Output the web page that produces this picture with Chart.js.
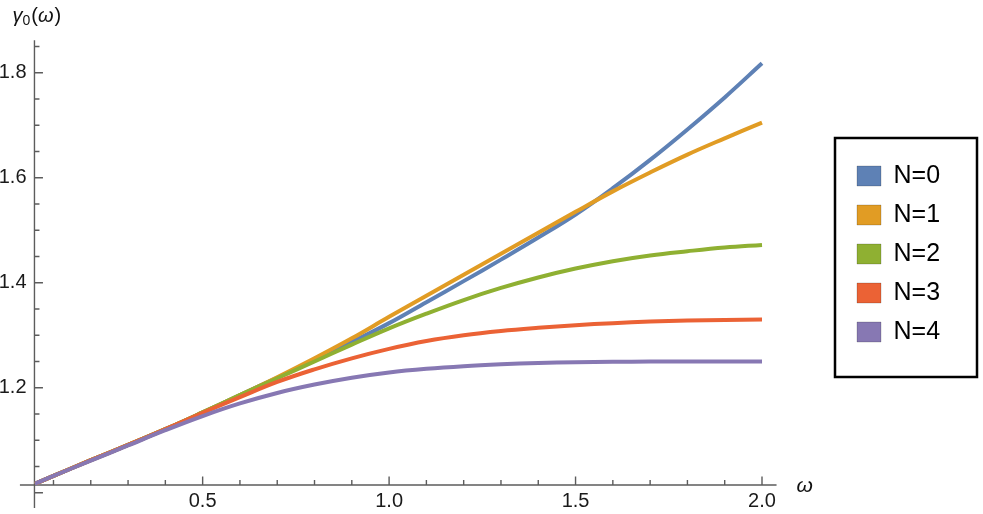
<!DOCTYPE html>
<html>
<head>
<meta charset="utf-8">
<script src="https://cdn.jsdelivr.net/npm/chart.js@4.4.1/dist/chart.umd.min.js"></script>
<style>
html,body{margin:0;padding:0;background:#fff}
canvas{display:block}
</style>
</head>
<body>
<canvas id="plot" width="983" height="514"></canvas>
<script>
// DATA
const omega=[0.05,0.1,0.2,0.3,0.4,0.5,0.6,0.7,0.8,0.9,1.0,1.1,1.2,1.3,1.4,1.5,1.6,1.7,1.8,1.9,2.0];
const gammaN0=[1.017,1.032,1.062,1.091,1.121,1.153,1.186,1.219,1.253,1.287,1.323,1.363,1.403,1.444,1.486,1.530,1.580,1.634,1.692,1.753,1.818];
const gammaN1=[1.017,1.032,1.062,1.091,1.121,1.153,1.186,1.220,1.256,1.294,1.335,1.375,1.415,1.455,1.495,1.535,1.574,1.610,1.644,1.675,1.705];
const gammaN2=[1.017,1.032,1.062,1.091,1.121,1.153,1.186,1.218,1.250,1.282,1.313,1.341,1.367,1.390,1.410,1.427,1.441,1.452,1.460,1.467,1.472];
const gammaN3=[1.017,1.032,1.062,1.091,1.121,1.152,1.182,1.211,1.235,1.256,1.274,1.289,1.300,1.308,1.314,1.319,1.323,1.326,1.328,1.329,1.330];
const gammaN4=[1.017,1.032,1.061,1.090,1.119,1.146,1.170,1.190,1.206,1.219,1.229,1.236,1.241,1.2445,1.247,1.2485,1.2493,1.2498,1.250,1.250,1.250];
const seriesNames=['N=0','N=1','N=2','N=3','N=4'];
const seriesColors=['#5E81B5','#E19C24','#8FB032','#EB6235','#8778B3'];

const xTickLabelled=[0.5,1.0,1.5,2.0];
const xTickMinor=[0.1,0.2,0.3,0.4,0.6,0.7,0.8,0.9,1.1,1.2,1.3,1.4,1.6,1.7,1.8,1.9];
const yTickLabelled=[1.2,1.4,1.6,1.8];
const yTickMajor=[1.0,1.2,1.4,1.6,1.8];
const yTickMinor=[1.05,1.1,1.15,1.25,1.3,1.35,1.45,1.5,1.55,1.65,1.7,1.75,1.85];
const axisOrigin=[0.049,1.0147];
const xAxisSpan=[0.01,2.039];
const yAxisSpan=[0.971,1.862];

const FONT='"Liberation Sans", Arial, sans-serif';
const AXIS='#5c5c5c';
const LEG_FONT=25, LEG_PAD=14, LEG_BOX=24;

// legend width is known up front so the plot area ends where it should
const mctx=document.createElement('canvas').getContext('2d');
mctx.font=LEG_FONT+'px '+FONT;
const legTextW=Math.max(...seriesNames.map(s=>mctx.measureText(s).width));
const legendW=LEG_PAD+LEG_BOX+LEG_FONT/2+legTextW+10;
const plotRight=843;
const padRight=983-plotRight-legendW;

// axes through the origin + inward ticks
const axesPlugin={
  id:'axesPlugin',
  beforeDatasetsDraw(c){
    const {ctx,scales:{x,y}}=c;
    const ox=x.getPixelForValue(axisOrigin[0]), oy=y.getPixelForValue(axisOrigin[1]);
    ctx.save();
    ctx.strokeStyle=AXIS; ctx.lineWidth=1.4;
    ctx.beginPath();
    ctx.moveTo(x.getPixelForValue(xAxisSpan[0]),oy); ctx.lineTo(x.getPixelForValue(xAxisSpan[1]),oy);
    ctx.moveTo(ox,y.getPixelForValue(yAxisSpan[0])); ctx.lineTo(ox,y.getPixelForValue(yAxisSpan[1]));
    xTickLabelled.forEach(v=>{const px=x.getPixelForValue(v);ctx.moveTo(px,oy);ctx.lineTo(px,oy-8.5)});
    xTickMinor.forEach(v=>{const px=x.getPixelForValue(v);ctx.moveTo(px,oy);ctx.lineTo(px,oy-5)});
    yTickMajor.forEach(v=>{const py=y.getPixelForValue(v);ctx.moveTo(ox,py);ctx.lineTo(ox+8.5,py)});
    yTickMinor.forEach(v=>{const py=y.getPixelForValue(v);ctx.moveTo(ox,py);ctx.lineTo(ox+5,py)});
    ctx.stroke();
    ctx.restore();
  },
  afterDraw(c){
    const {ctx,scales:{x,y}}=c;
    const ox=x.getPixelForValue(axisOrigin[0]), oy=y.getPixelForValue(axisOrigin[1]);
    const top=y.getPixelForValue(yAxisSpan[1]);
    ctx.save();
    ctx.fillStyle='#111'; ctx.textBaseline='alphabetic'; ctx.textAlign='left';
    // y label: gamma_0(omega)
    let bx=ox-22, by=top-18;
    ctx.font='italic 20px '+FONT; ctx.fillText('γ',bx,by); bx+=ctx.measureText('γ').width;
    ctx.font='14px '+FONT; ctx.fillText('0',bx,by+3); bx+=ctx.measureText('0').width+1;
    ctx.font='20px '+FONT; ctx.fillText('(',bx,by); bx+=ctx.measureText('(').width;
    ctx.font='italic 20px '+FONT; ctx.fillText('ω',bx,by); bx+=ctx.measureText('ω').width+1;
    ctx.font='20px '+FONT; ctx.fillText(')',bx,by);
    // x label
    ctx.font='italic 21px '+FONT;
    ctx.fillText('ω',x.getPixelForValue(xAxisSpan[1])+20,oy+7);
    // legend frame
    const hb=c.legend.legendHitBoxes;
    if(hb&&hb.length){
      const l=hb[0].left-22, t=hb[0].top-25.5;
      const b=hb[hb.length-1].top+hb[hb.length-1].height+32.5;
      ctx.strokeStyle='#000'; ctx.lineWidth=2.5;
      ctx.strokeRect(l,t,142,b-t);
    }
    ctx.restore();
  }
};

const datasets=[gammaN0,gammaN1,gammaN2,gammaN3,gammaN4].map((arr,i)=>({
  label:seriesNames[i],
  data:omega.map((w,k)=>({x:w,y:arr[k]})),
  borderColor:seriesColors[i],
  backgroundColor:seriesColors[i],
  borderWidth:4,
  pointRadius:0,
  tension:0.4,
  fill:false,
  order:4-i
}));

new Chart(document.getElementById('plot'),{
  type:'line',
  data:{datasets},
  options:{
    responsive:false,
    animation:false,
    layout:{padding:{top:23,left:0,bottom:0,right:padRight}},
    plugins:{
      tooltip:{enabled:false},
      legend:{
        position:'right',
        fullSize:false,
        labels:{
          boxWidth:LEG_BOX,boxHeight:20,padding:LEG_PAD,color:'#000',
          font:{size:LEG_FONT,family:FONT},
          generateLabels:c=>c.data.datasets.map((d,i)=>({
            text:d.label,fillStyle:d.borderColor,strokeStyle:'rgba(0,0,0,0.18)',
            lineWidth:1,hidden:false,datasetIndex:i,fontColor:'#000'
          }))
        }
      }
    },
    scales:{
      x:{
        type:'linear',min:0.0491,max:2.2172,
        afterFit(s){s.height=29},
        afterBuildTicks(s){s.ticks=xTickLabelled.map(v=>({value:v}))},
        grid:{display:false,drawTicks:false},
        border:{display:false},
        ticks:{padding:4,color:'#1a1a1a',autoSkip:false,maxRotation:0,font:{size:20,family:FONT},callback:v=>Number(v).toFixed(1)}
      },
      y:{
        type:'linear',min:1.01467,max:1.8947,
        afterFit(s){s.width=34.5},
        afterBuildTicks(s){s.ticks=yTickLabelled.map(v=>({value:v}))},
        grid:{display:false,drawTicks:false},
        border:{display:false},
        ticks:{padding:8,color:'#1a1a1a',autoSkip:false,font:{size:20,family:FONT},callback:v=>Number(v).toFixed(1)}
      }
    }
  },
  plugins:[axesPlugin]
});
</script>
</body>
</html>
